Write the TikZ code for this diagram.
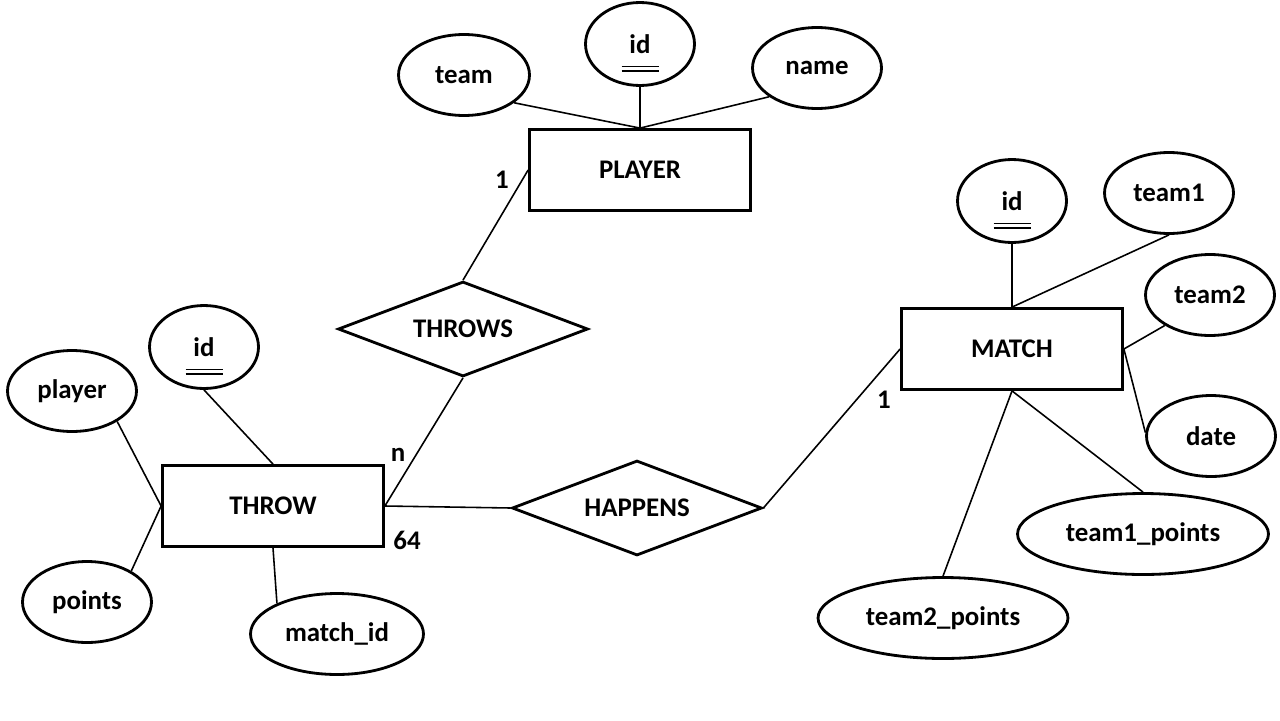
\documentclass[tikz,border=0pt]{standalone}
\usepackage{fontspec}
\setmainfont{Carlito}
\usetikzlibrary{shapes.geometric}

\tikzset{
    every node/.style={font=\fontsize{15.3}{18}\selectfont\bfseries},
    entity/.style={draw, rectangle, line width=1.6pt, minimum width=4.42cm, minimum height=1.62cm},
    relation/.style={draw, diamond, line width=1.6pt, aspect=2.58, inner sep=0pt, minimum width=5.0cm, minimum height=1.9cm},
    attribute/.style={draw, ellipse, line width=1.6pt, inner sep=0pt, minimum width=2.58cm, minimum height=1.62cm},
    key/.style={attribute, minimum width=2.18cm, minimum height=1.66cm,
        path picture={
            \draw[line width=1.1pt] ([shift={(-0.37cm,-0.45cm)}]path picture bounding box.center) -- ++(0.74cm,0);
            \draw[line width=1.1pt] ([shift={(-0.37cm,-0.54cm)}]path picture bounding box.center) -- ++(0.74cm,0);
        }},
    link/.style={line width=0.9pt},
}

\begin{document}
\begin{tikzpicture}[x=0.02cm, y=-0.02cm]
        % keep the page at the size of the slide
        \useasboundingbox (0,0) rectangle (1280,720);
        % entities
        \node[entity] (player) at (640,170) {PLAYER};
        \node[entity] (throw) at (273,506) {THROW};
        \node[entity] (match) at (1012,349) {MATCH};
        % relationships
        \node[relation] (throws) at (463,329) {THROWS};
        \node[relation] (happens) at (637,508) {HAPPENS};
        % attributes of player
        \node[attribute, minimum width=2.62cm] (pteam) at (464,75) {team};
        \node[key] (pid) at (640,44) {id};
        \node[attribute] (pname) at (817,68) {name};
        % attributes of throw
        \node[key] (tid) at (204,347) {id};
        \node[attribute] (tplayer) at (72,391) {player};
        \node[attribute] (tpoints) at (87,602) {points};
        \node[attribute, minimum width=3.46cm] (tmatch) at (337,634) {match\_id};
        % attributes of match
        \node[key] (mid) at (1012,201) {id};
        \node[attribute] (mteam1) at (1169,193) {team1};
        \node[attribute] (mteam2) at (1210,295) {team2};
        \node[attribute] (mdate) at (1211,436) {date};
        \node[attribute, minimum width=5.02cm] (mt1p) at (1143,534) {team1\_points};
        \node[attribute, minimum width=5.0cm] (mt2p) at (943,618) {team2\_points};
        % connect every attribute to its entity
        \foreach \a/\e in {pteam.331/player.north, pid/player.north, pname.211/player.north,
                tid.south/throw.north, tplayer.326/throw.west, tpoints.35/throw.west, tmatch.153/throw.south,
                mid/match.north, mteam1.south/match.north, mteam2.214/match.east, mdate.177/match.east,
                mt1p.north/match.south, mt2p.north/match.south}{
            \draw[link] (\a) -- (\e);
        }
        % connect entities through the relationships
        \draw[link] (throws.north) -- (player.west);
        \draw[link] (throws.south) -- (throw.east);
        \draw[link] (throw.east) -- (happens.west);
        \draw[link] (happens.east) -- (match.west);
        % cardinalities
        \node (c1) at (502,180) {1};
        \node (cn) at (398,455) {n};
        \node (c64) at (407,540) {64};
        \node (cm) at (884,400) {1};
\end{tikzpicture}
\end{document}
